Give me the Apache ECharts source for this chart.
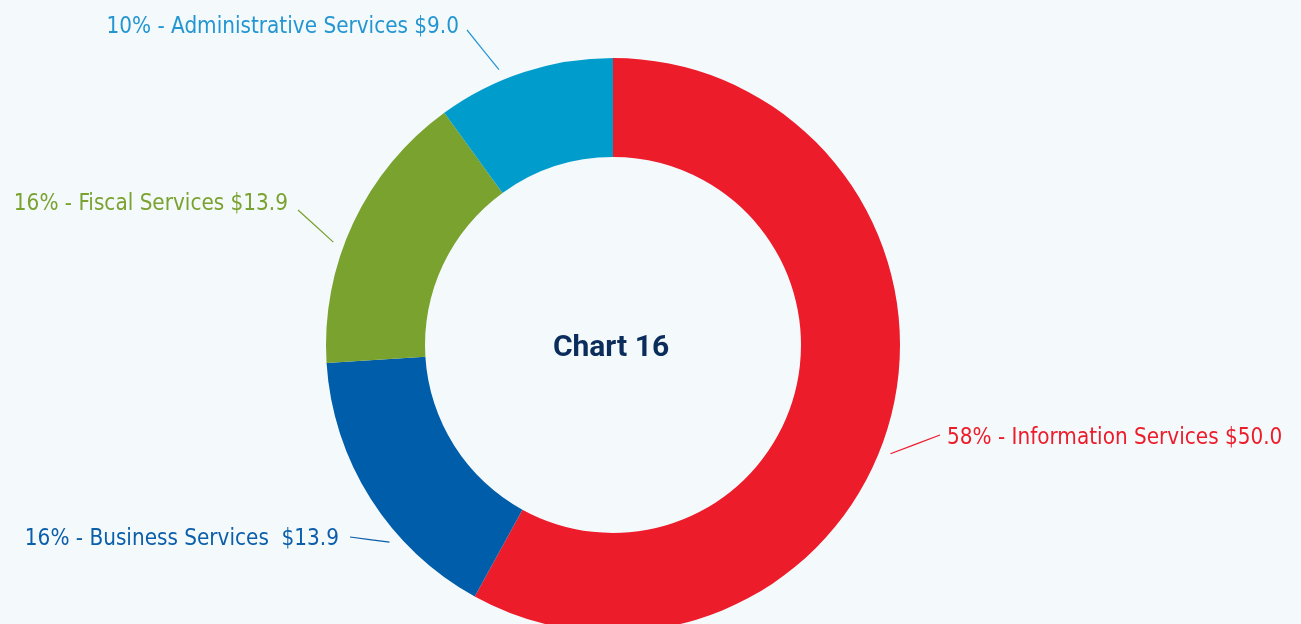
<!DOCTYPE html>
<html><head><meta charset="utf-8">
<script src="https://cdn.jsdelivr.net/npm/echarts@6/dist/echarts.min.js"></script>
<style>html,body{margin:0;padding:0;background:#F4F9FC;}#c{width:1301px;height:624px;}</style>
</head><body><div id="c"></div>
<script>
const categories = ['Information Services', 'Business Services ', 'Fiscal Services', 'Administrative Services'];
const percents = [58, 16, 16, 10];
const dollars = [50.0, 13.9, 13.9, 9.0];
const colors = ['#ED1C2A', '#005DAA', '#7AA22F', '#009DCC'];
const labelColors = ['#ED1C2A', '#0B5EAA', '#7AA22F', '#2396D2'];
const title = 'Chart 16';

const CX = 613, CY = 345, R0 = 188, R1 = 287;
const FONT = '"DejaVu Sans Condensed", Roboto, sans-serif';
// label anchor (layout): x, y, align, line start offset, line angle offset
const labelPos = [
  {x: 947, y: 438, align: 'left', sx: -7, sy: -3, da: 7},
  {x: 339, y: 539, align: 'right', sx: 11, sy: -2, da: -9},
  {x: 288, y: 204, align: 'right', sx: 10, sy: 6, da: -5},
  {x: 459, y: 27, align: 'right', sx: 8, sy: 3, da: -4.5}
];
const total = percents.reduce((a, b) => a + b, 0);
function midAngle(i) {
  let s = 0;
  for (let k = 0; k < i; k++) s += percents[k];
  return (s + percents[i] / 2) / total * 360; // clockwise from top
}
const chart = echarts.init(document.getElementById('c'), null, {renderer: 'canvas'});
chart.setOption({
  backgroundColor: '#F4F9FC',
  animation: false,
  title: {
    text: title, left: CX - 7, top: CY - 2, textAlign: 'center', textVerticalAlign: 'middle',
    textStyle: {fontFamily: 'Roboto, sans-serif', fontWeight: 'bold', fontSize: 30, color: '#0B2D5B'}
  },
  series: [{
    type: 'pie',
    center: [CX, CY],
    radius: [R0, R1],
    startAngle: 90,
    clockwise: true,
    avoidLabelOverlap: false,
    emphasis: {disabled: true},
    data: categories.map((n, i) => ({name: n, value: percents[i], itemStyle: {color: colors[i]},
      label: {color: labelColors[i]}, labelLine: {lineStyle: {color: labelColors[i]}}})),
    label: {
      show: true,
      fontFamily: FONT,
      fontSize: 22.3,
      formatter: p => percents[p.dataIndex] + '% - ' + p.name + ' $' + dollars[p.dataIndex].toFixed(1)
    },
    labelLine: {show: true, lineStyle: {width: 1.2}},
    labelLayout: function (params) {
      const i = params.dataIndex;
      const lp = labelPos[i];
      const a = (midAngle(i) + lp.da) * Math.PI / 180;
      const rr = R1 + 11;
      const ex = CX + rr * Math.sin(a), ey = CY - rr * Math.cos(a);
      const sx = lp.x + lp.sx, sy = lp.y + lp.sy;
      return {
        x: lp.x, y: lp.y, align: lp.align, verticalAlign: 'middle',
        labelLinePoints: [[sx, sy], [(sx + ex) / 2, (sy + ey) / 2], [ex, ey]]
      };
    }
  }]
});
</script></body></html>
